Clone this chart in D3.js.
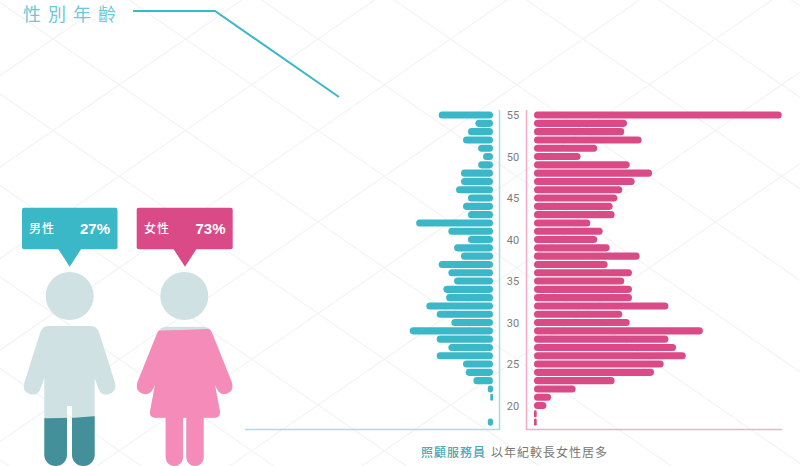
<!DOCTYPE html>
<html>
<head>
<meta charset="utf-8">
<script src="https://cdnjs.cloudflare.com/ajax/libs/d3/7.8.5/d3.min.js"></script>
<style>
    body { margin: 0; background: #fff; }
    svg { display: block; }
    text { font-family: "Noto Sans CJK TC", "Noto Sans", sans-serif; }
    .lattice { stroke: #f4f4f4; stroke-width: 1.3; }
    .age { font-family: Roboto, sans-serif; font-size: 11px; fill: #7c7c7c; text-anchor: middle; }
    .pct { font-family: "Liberation Sans", sans-serif; font-size: 15px; font-weight: bold; fill: #fff; text-anchor: end; }
    .sex { font-size: 12px; font-weight: 500; fill: #fff; letter-spacing: 1px; }
</style>
</head>
<body>
<div id="chart"></div>
<script>
    const TEAL = '#3ab8c8';
    const PINK = '#d94a87';

    // single years of age, oldest first. values are % of the longest bar
    const ages = d3.range(55, 17, -1);
    const ageTicks = [55, 50, 45, 40, 35, 30, 25, 20];
    const maleValues = [21.9, 7.1, 10.1, 12.1, 6, 4, 6, 12.9, 12.9, 14.9, 10.1, 12.1, 10.1, 31, 18, 10.1, 15.7, 12.9, 21.9,
        18, 15.7, 20, 18.9, 26.9, 22.7, 16.8, 33.6, 22.7, 18, 22.7, 12.1, 11, 7.9, 2.1, 1.1, 0, 0, 2.1];
    const femaleValues = [99.9, 37.5, 36.4, 43.4, 25.5, 18.8, 38.6, 47.6, 40.6, 35.6, 33.6, 31.7, 32.5, 22.7, 27.7, 25.5, 30.5, 42.6, 29.7,
        39.5, 36.4, 39.5, 39.5, 54.2, 35.6, 38.6, 68.1, 54.2, 57.3, 61.2, 52.3, 48.4, 32.5, 16.8, 6.9, 5, 1.1, 1.1];
    const shares = [
        { label: '男性', pct: '27%' },
        { label: '女性', pct: '73%' }
    ];

    const width = 800, height = 466;

    const svg = d3.select('#chart').append('svg')
        .attr('width', width)
        .attr('height', height);

    // faint diamond lattice behind everything
    const cellW = 132.5, cellH = 91.5;
    const lattice = svg.append('g');
    d3.range(-8, 8).forEach(k => {
        const y0 = 39 + k * cellH - (53 * cellH / cellW);
        const y1 = y0 + width * cellH / cellW;
        lattice.append('line').attr('class', 'lattice').attr('x1', 0).attr('y1', y0).attr('x2', width).attr('y2', y1);
        const y2 = 39 + k * cellH + (53 * cellH / cellW);
        const y3 = y2 - width * cellH / cellW;
        lattice.append('line').attr('class', 'lattice').attr('x1', 0).attr('y1', y2).attr('x2', width).attr('y2', y3);
    });

    // title + leader line
    svg.append('text')
        .attr('x', 23).attr('y', 21)
        .attr('font-size', 18)
        .attr('letter-spacing', 7)
        .attr('fill', '#6cc9d5')
        .text('性別年齡');
    svg.append('path')
        .attr('d', 'M133,11 L215,11 L339,97')
        .attr('fill', 'none').attr('stroke', TEAL).attr('stroke-width', 2);

    // pyramid
    const y = d3.scaleBand().domain(ages).range([110.9, 426.3]).paddingInner(0.15).paddingOuter(0.075);
    const xMale = d3.scaleLinear().domain([0, 100]).range([493, 245]);
    const xFemale = d3.scaleLinear().domain([0, 100]).range([534, 782]);
    const radius = w => Math.min(y.bandwidth() / 2, w / 2);

    svg.append('g').selectAll('rect')
        .data(ages.map((a, i) => ({ age: a, v: maleValues[i] })).filter(d => d.v > 0))
        .join('rect')
        .attr('x', d => xMale(d.v))
        .attr('y', d => y(d.age))
        .attr('width', d => xMale(0) - xMale(d.v))
        .attr('height', y.bandwidth())
        .attr('rx', d => radius(xMale(0) - xMale(d.v)))
        .attr('fill', TEAL);

    svg.append('g').selectAll('rect')
        .data(ages.map((a, i) => ({ age: a, v: femaleValues[i] })))
        .join('rect')
        .attr('x', xFemale(0))
        .attr('y', d => y(d.age))
        .attr('width', d => xFemale(d.v) - xFemale(0))
        .attr('height', y.bandwidth())
        .attr('rx', d => radius(xFemale(d.v) - xFemale(0)))
        .attr('fill', PINK);

    // axis frames
    svg.append('path').attr('d', 'M499.5,110 V429.5 H245').attr('fill', 'none').attr('stroke', '#a8dee6').attr('stroke-width', 1.6);
    svg.append('path').attr('d', 'M526.5,110 V429.5 H782').attr('fill', 'none').attr('stroke', '#f2afcc').attr('stroke-width', 1.6);

    svg.append('g').selectAll('text')
        .data(ageTicks)
        .join('text')
        .attr('class', 'age')
        .attr('x', 513)
        .attr('y', d => y(d) + y.bandwidth() / 2 + 4)
        .text(d => d);

    // callouts
    const callouts = [
        { x: 22, w: 95.5, tip: 69.7, color: TEAL, labelX: 29, pctX: 110 },
        { x: 136.7, w: 96, tip: 185, color: PINK, labelX: 144, pctX: 225.5 }
    ];
    callouts.forEach((c, i) => {
        const g = svg.append('g');
        g.append('rect').attr('x', c.x).attr('y', 207.7).attr('width', c.w).attr('height', 41.6).attr('rx', 2).attr('fill', c.color);
        g.append('path').attr('d', `M${c.tip - 11.5},249 L${c.tip + 11.5},249 L${c.tip},266.7 Z`).attr('fill', c.color);
        g.append('text').attr('class', 'sex').attr('x', c.labelX).attr('y', 233).text(shares[i].label);
        g.append('text').attr('class', 'pct').attr('x', c.pctX).attr('y', 234).text(shares[i].pct);
    });

    // figures, traced at 3x so the group is scaled down
    const PALE = '#cfe1e3';
    const defs = svg.append('defs');
    const figures = svg.append('g').attr('transform', 'translate(0,200) scale(0.3333)');

    const manBody = 'M145,378 L272,378 Q290,378 297,396 L345,548 Q352,575 325,583 Q302,588 295,565 L284,535 L284,764 A34,34 0 0 1 216,764 L216,618 L201,618 L201,764 A34,34 0 0 1 133,764 L133,535 L122,565 Q115,588 92,583 Q65,575 73,548 L121,396 Q128,378 145,378 Z';
    const womanBody = 'M500,380 L610,380 Q628,380 636,398 L695,545 Q705,572 680,581 Q660,587 650,565 L645,555 L660,635 Q662,652 645,653 L611,653 L611,772 A26,26 0 0 1 559,772 L559,653 L549,653 L549,772 A26,26 0 0 1 497,772 L497,653 L465,653 Q448,652 450,635 L465,555 L460,565 Q450,587 428,581 Q403,572 413,545 L472,398 Q480,380 500,380 Z';

    defs.append('clipPath').attr('id', 'man-clip').append('path').attr('d', manBody);
    defs.append('clipPath').attr('id', 'woman-clip').append('path').attr('d', womanBody);

    figures.append('circle').attr('cx', 209).attr('cy', 288).attr('r', 72).attr('fill', PALE);
    figures.append('path').attr('d', manBody).attr('fill', PALE);
    figures.append('path').attr('clip-path', 'url(#man-clip)')
        .attr('d', 'M100,654 Q200,657 300,647 V810 H100 Z').attr('fill', '#43909a');

    figures.append('circle').attr('cx', 553).attr('cy', 288).attr('r', 72).attr('fill', PALE);
    figures.append('path').attr('d', womanBody).attr('fill', PALE);
    figures.append('path').attr('clip-path', 'url(#woman-clip)')
        .attr('d', 'M400,393 Q540,392 710,383 V810 H400 Z').attr('fill', '#f48bb8');

    // footnote
    const note = svg.append('text')
        .attr('x', 421).attr('y', 456.5)
        .attr('font-size', 12)
        .attr('letter-spacing', 1);
    note.append('tspan').attr('fill', '#4aa9b8').attr('font-weight', 500).text('照顧服務員');
    note.append('tspan').attr('fill', '#777').attr('dx', 5).text('以年紀較長女性居多');
</script>
</body>
</html>
